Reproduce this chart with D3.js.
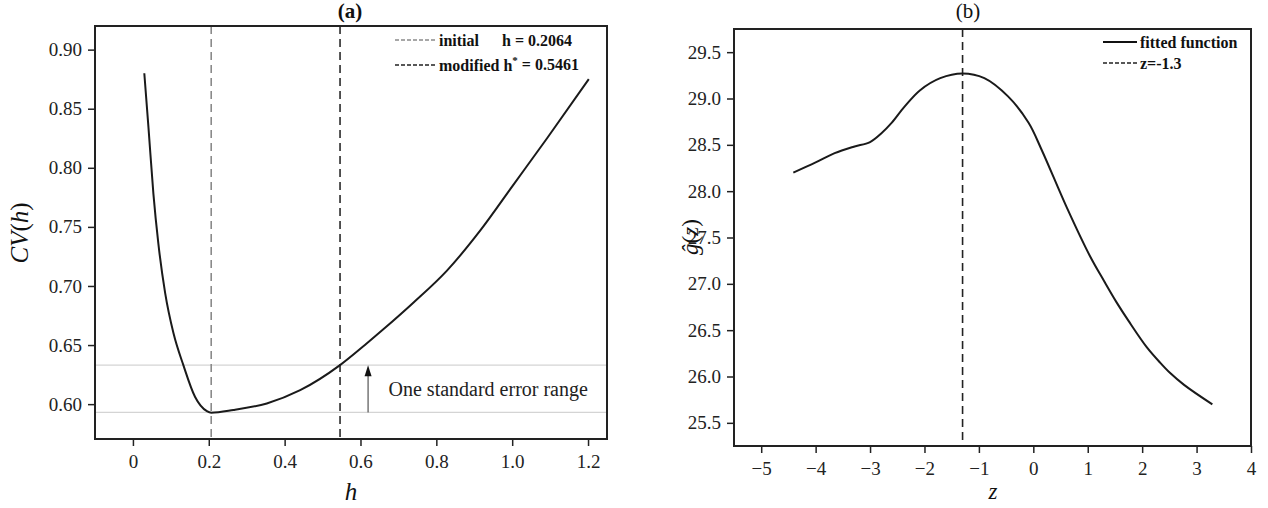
<!DOCTYPE html>
<html>
<head>
<meta charset="utf-8">
<script src="https://cdn.jsdelivr.net/npm/d3@7"></script>
<style>
  body { margin: 0; background: #fff; }
  svg { display: block; font-family: "Liberation Serif", serif; }
  .tick line { stroke: #222; stroke-width: 1.5px; }
</style>
</head>
<body>
<svg id="chart" width="1268" height="508"></svg>
<script>
// panel (a): cross-validation curve CV(h)
const hVals  = [0.030, 0.041, 0.054, 0.067, 0.085, 0.107, 0.133, 0.164, 0.195, 0.2064,
                0.265, 0.353, 0.441, 0.546, 0.617, 0.661, 0.740, 0.828, 0.916, 1.004, 1.092, 1.202];
const cvVals = [0.880, 0.834, 0.778, 0.736, 0.694, 0.660, 0.633, 0.606, 0.594, 0.5927,
                0.595, 0.6006, 0.6118, 0.633, 0.6515, 0.6635, 0.686, 0.713, 0.747, 0.786, 0.825, 0.875];
const hInitial = 0.2064, hModified = 0.5461;
const seBand = [0.593, 0.633];          // one standard error range
const seArrowH = 0.62;
const aTicksX = [0, 0.2, 0.4, 0.6, 0.8, 1.0, 1.2];
const aTicksY = [0.60, 0.65, 0.70, 0.75, 0.80, 0.85, 0.90];

// panel (b): fitted function g(z)
const zVals = [-4.41, -4.0, -3.65, -3.3, -3.0, -2.8, -2.6, -2.37, -2.08, -1.71, -1.3, -0.9, -0.46,
               -0.09, 0.15, 0.61, 1.04, 1.3, 1.53, 1.75, 2.08, 2.33, 2.51, 2.77, 3.29];
const gVals = [28.20, 28.31, 28.41, 28.48, 28.53, 28.62, 28.74, 28.91, 29.09, 29.22, 29.27, 29.22, 29.02,
               28.74, 28.45, 27.83, 27.30, 27.03, 26.80, 26.60, 26.32, 26.15, 26.04, 25.91, 25.70];
const zMark = -1.3;
const bTicksX = [-5, -4, -3, -2, -1, 0, 1, 2, 3, 4];
const bTicksY = [25.5, 26.0, 26.5, 27.0, 27.5, 28.0, 28.5, 29.0, 29.5];

const SERIF = '"Liberation Serif", "Times New Roman", serif';
const svg = d3.select("#chart");
const INK = "#1a1a1a";

function frame(x, y) {
  const [x0, x1] = x.range(), [y1, y0] = y.range();
  svg.append("rect").attr("x", x0).attr("y", y0).attr("width", x1 - x0).attr("height", y1 - y0)
    .attr("fill", "none").attr("stroke", "#222").attr("stroke-width", 2);
}
function axes(x, y, tx, ty, fx, fy) {
  const [y1] = y.range(), [x0] = x.range();
  const gx = svg.append("g").attr("transform", `translate(0,${y1})`)
    .call(d3.axisBottom(x).tickValues(tx).tickFormat(fx).tickSize(7).tickSizeOuter(0).tickPadding(8));
  const gy = svg.append("g").attr("transform", `translate(${x0},0)`)
    .call(d3.axisLeft(y).tickValues(ty).tickFormat(fy).tickSize(7).tickSizeOuter(0).tickPadding(6));
  [gx, gy].forEach(g => {
    g.select(".domain").remove();
    g.attr("font-family", SERIF).attr("font-size", 19);
    g.selectAll(".tick text").style("font-family", SERIF).attr("fill", "#222");
  });
  gx.selectAll(".tick text").attr("dy", "0.75em");
}
function vdash(x, y, v, col) {
  svg.append("line").attr("x1", x(v)).attr("x2", x(v)).attr("y1", y.range()[1]).attr("y2", y.range()[0])
    .attr("stroke", col).attr("stroke-width", 1.6).attr("stroke-dasharray", "8,5");
}
// math-style label: italic letters, upright parentheses
function mathLabel(t, parts) {
  parts.forEach(([s, it]) => t.append("tspan").attr("font-style", it ? "italic" : "normal").text(s));
}

// ---------- (a)
const xa = d3.scaleLinear([-0.1, 1.25], [95, 607]);
const ya = d3.scaleLinear([0.5705, 0.92], [439, 26]);

seBand.forEach(v => svg.append("line").attr("x1", 95).attr("x2", 607).attr("y1", ya(v)).attr("y2", ya(v))
  .attr("stroke", "#d4d4d4").attr("stroke-width", 1.2));

vdash(xa, ya, hInitial, "#8a8a8a");
vdash(xa, ya, hModified, "#2a2a2a");

svg.append("path").datum(d3.zip(hVals, cvVals))
  .attr("fill", "none").attr("stroke", INK).attr("stroke-width", 2)
  .attr("d", d3.line().x(d => xa(d[0])).y(d => ya(d[1])).curve(d3.curveMonotoneX));

// arrow for the one standard error range
const ax = xa(seArrowH);
svg.append("line").attr("x1", ax).attr("x2", ax).attr("y1", ya(seBand[0])).attr("y2", ya(seBand[1]) + 8)
  .attr("stroke", "#333").attr("stroke-width", 1);
svg.append("path").attr("d", `M${ax},${ya(seBand[1])} l-3.5,11 l7,0 z`).attr("fill", "#111");
svg.append("text").attr("x", xa(0.674)).attr("y", ya(0.613)).attr("dy", "0.35em")
  .attr("font-size", 20).attr("fill", "#222").text("One standard error range");

frame(xa, ya);
axes(xa, ya, aTicksX, aTicksY, d => d === 0 ? "0" : d3.format(".1f")(d), d3.format(".2f"));

svg.append("text").attr("x", 350).attr("y", 18).attr("text-anchor", "middle")
  .attr("font-size", 21).attr("font-weight", "bold").attr("fill", "#111").text("(a)");
svg.append("text").attr("x", 351).attr("y", 500).attr("text-anchor", "middle")
  .attr("font-size", 25).attr("font-style", "italic").attr("fill", "#111").text("h");
mathLabel(svg.append("text").attr("transform", "translate(28,233) rotate(-90)").attr("text-anchor", "middle")
  .attr("font-size", 25).attr("fill", "#111"), [["CV", true], ["(", false], ["h", true], [")", false]]);

// legend (a)
const legA = svg.append("g").attr("font-size", 16).attr("font-weight", "bold").attr("fill", "#111");
[[40, "#8a8a8a"], [65, "#222"]].forEach(([y, c]) =>
  legA.append("line").attr("x1", 395).attr("x2", 435).attr("y1", y).attr("y2", y)
    .attr("stroke", c).attr("stroke-width", 1.3).attr("stroke-dasharray", "4,2"));
legA.append("text").attr("x", 439).attr("y", 40).attr("dy", "0.35em").text("initial");
legA.append("text").attr("x", 502).attr("y", 40).attr("dy", "0.35em").text("h = 0.2064");
const t2 = legA.append("text").attr("x", 439).attr("y", 65).attr("dy", "0.35em");
t2.append("tspan").text("modified h");
t2.append("tspan").attr("font-size", 11).attr("dy", "-0.6em").text("*");
t2.append("tspan").attr("dy", "0.4em").text(" = 0.5461");

// ---------- (b)
const xb = d3.scaleLinear([-5.5, 4], [734, 1251]);
const yb = d3.scaleLinear([25.25, 29.75], [446, 29]);

vdash(xb, yb, zMark, "#222");

svg.append("path").datum(d3.zip(zVals, gVals))
  .attr("fill", "none").attr("stroke", INK).attr("stroke-width", 2)
  .attr("d", d3.line().x(d => xb(d[0])).y(d => yb(d[1])).curve(d3.curveCatmullRom.alpha(0.5)));

frame(xb, yb);
axes(xb, yb, bTicksX, bTicksY, d3.format("d"), d3.format(".1f"));

svg.append("text").attr("x", 968).attr("y", 18).attr("text-anchor", "middle")
  .attr("font-size", 21).attr("fill", "#111").text("(b)");
svg.append("text").attr("x", 993).attr("y", 499).attr("text-anchor", "middle")
  .attr("font-size", 23).attr("font-style", "italic").attr("fill", "#111").text("z");
mathLabel(svg.append("text").attr("transform", "translate(698,237) rotate(-90)").attr("text-anchor", "middle")
  .attr("font-size", 23).attr("fill", "#111"), [["\u011D", true], ["(", false], ["z", true], [")", false]]);

// legend (b)
const legB = svg.append("g").attr("font-size", 16).attr("font-weight", "bold").attr("fill", "#111");
legB.append("line").attr("x1", 1103).attr("x2", 1137).attr("y1", 42).attr("y2", 42)
  .attr("stroke", "#111").attr("stroke-width", 2);
legB.append("line").attr("x1", 1103).attr("x2", 1137).attr("y1", 63).attr("y2", 63)
  .attr("stroke", "#222").attr("stroke-width", 1.3).attr("stroke-dasharray", "4,2");
legB.append("text").attr("x", 1140).attr("y", 42).attr("dy", "0.35em").text("fitted function");
legB.append("text").attr("x", 1140).attr("y", 63).attr("dy", "0.35em").text("z=-1.3");
</script>
</body>
</html>
